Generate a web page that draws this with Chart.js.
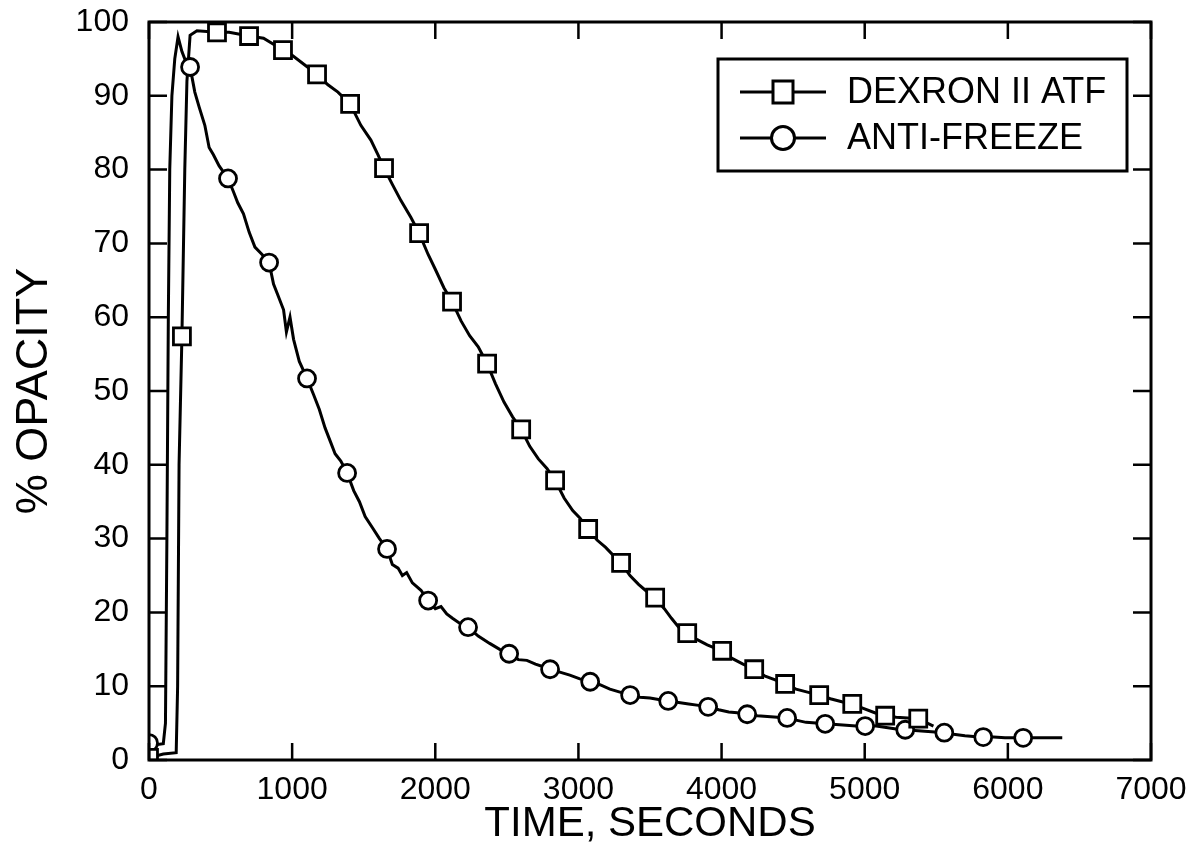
<!DOCTYPE html>
<html>
<head>
<meta charset="utf-8">
<script src="https://cdn.jsdelivr.net/npm/chart.js@4.4.0/dist/chart.umd.min.js"></script>
<style>
html,body{margin:0;padding:0;background:#fff;}
#wrap{width:1195px;height:856px;}
</style>
</head>
<body>
<div id="wrap"><canvas id="opacitychart" width="1195" height="856"></canvas></div>
<script>
// (time in seconds, % opacity)
const dexronTime=[0,100,190,200,210,230,250,265,287,335,475,560,699,800,936,1000,1100,1174,1250,1320,1405,1480,1550,1600,1642,1700,1760,1830,1887,1950,2000,2060,2117,2180,2240,2300,2362,2420,2480,2540,2600,2660,2720,2780,2837,2900,2960,3010,3068,3130,3190,3240,3298,3360,3420,3480,3536,3600,3650,3700,3760,3830,3900,3950,4004,4070,4150,4228,4300,4370,4444,4520,4600,4682,4760,4840,4913,4990,5070,5143,5220,5300,5374,5480];
const dexronOpacity=[0.3,0.8,1,10,40,57.4,80,92,98.2,98.8,98.6,98.6,98.1,97.8,96.2,95.5,94,92.9,91.5,90.5,88.9,86,84,82,80.2,78,75.8,73.5,71.4,68.5,66.5,64,62.1,59.5,57.5,56,53.7,51,48.5,46.5,44.8,42.5,40.8,39.5,37.9,35.5,33.8,32.8,31.3,29.8,28.8,27.8,26.7,25,23.8,22.8,22,20.5,19.2,18,17.2,16.3,15.6,15.2,14.8,13.8,13,12.3,11.4,10.9,10.3,9.6,9.2,8.8,8.3,7.9,7.6,7,6.4,6,5.8,5.7,5.6,4.6];
const dexronMarkTime=[0,230,475,699,936,1174,1405,1642,1887,2117,2362,2600,2837,3068,3298,3536,3760,4004,4228,4444,4682,4913,5143,5374];
const dexronMarkOpacity=[0.3,57.4,98.6,98.1,96.2,92.9,88.9,80.2,71.4,62.1,53.7,44.8,37.9,31.3,26.7,22,17.2,14.8,12.3,10.3,8.8,7.6,6,5.6];

const freezeTime=[0,60,100,115,125,135,145,160,180,203,230,260,287,320,350,390,420,450,490,552,590,620,660,700,740,790,839,870,900,940,960,985,1010,1050,1104,1150,1190,1230,1270,1300,1340,1384,1430,1470,1510,1560,1610,1663,1700,1740,1770,1800,1840,1900,1950,2000,2040,2080,2120,2180,2229,2300,2380,2450,2516,2580,2640,2700,2760,2802,2870,2940,3010,3082,3150,3220,3290,3361,3430,3500,3560,3627,3700,3770,3840,3906,3980,4050,4110,4179,4250,4320,4390,4458,4520,4590,4660,4724,4800,4870,4940,5003,5080,5150,5220,5283,5350,5420,5490,5556,5620,5700,5760,5828,5900,5980,6040,6107,6200,6290,6380];
const freezeOpacity=[2.3,2.1,2.2,5,30,60,80,90,95,98,96,94.5,93.9,90.5,88.5,86,83,82,80.5,78.8,77,75.5,74,71.5,69.5,68.5,67.4,64.5,63,61,58,60,57,54,51.7,49.5,47.5,45,43,41.5,40.5,38.9,36.5,35,33,31.5,30,28.6,26.5,26,25,25.4,24,23,21.6,20.5,20.8,19.8,19.2,18.4,18,16.8,15.8,15,14.4,13.6,13.5,13,12.6,12.3,11.9,11.5,11,10.6,10.2,9.6,9.2,8.8,8.5,8.4,8.2,8,7.8,7.6,7.4,7.2,6.8,6.5,6.4,6.2,6,5.9,5.8,5.7,5.4,5.1,5,4.9,4.8,4.7,4.6,4.6,4.6,4.4,4.2,4.1,4,3.9,3.8,3.7,3.5,3.3,3.2,3.1,3.1,3,3,3,3,3,3];
const freezeMarkTime=[0,287,552,839,1104,1384,1663,1950,2229,2516,2802,3082,3361,3627,3906,4179,4458,4724,5003,5283,5556,5828,6107];
const freezeMarkOpacity=[2.3,93.9,78.8,67.4,51.7,38.9,28.6,21.6,18,14.4,12.3,10.6,8.8,8,7.2,6.2,5.7,4.9,4.6,4.1,3.7,3.1,3];

const xTicks=[0,1000,2000,3000,4000,5000,6000,7000];
const yTicks=[0,10,20,30,40,50,60,70,80,90,100];
const seriesNames=["DEXRON II ATF","ANTI-FREEZE"];

function pts(xs,ys){
    return xs.map((x,i)=>({x:x,y:ys[i]}));
}

const FONT="'Liberation Sans', Arial, Helvetica, sans-serif";

// frame, inward ticks, legend box
const framePlugin={
    id:"frame",
    afterDraw(chart){
        const ctx=chart.ctx;
        const a=chart.chartArea;
        const xs=chart.scales.x, ys=chart.scales.y;
        ctx.save();
        ctx.strokeStyle="#000";
        ctx.lineWidth=3;
        ctx.strokeRect(a.left,a.top,a.right-a.left,a.bottom-a.top);
        ctx.lineWidth=2.5;
        ctx.beginPath();
        xTicks.forEach(v=>{
            const px=xs.getPixelForValue(v);
            ctx.moveTo(px,a.bottom); ctx.lineTo(px,a.bottom-17);
            ctx.moveTo(px,a.top); ctx.lineTo(px,a.top+17);
        });
        yTicks.forEach(v=>{
            const py=ys.getPixelForValue(v);
            ctx.moveTo(a.left,py); ctx.lineTo(a.left+18,py);
            ctx.moveTo(a.right,py); ctx.lineTo(a.right-18,py);
        });
        ctx.stroke();

        // legend
        const lx=718, ly=59, lw=409, lh=112;
        ctx.fillStyle="#fff";
        ctx.fillRect(lx,ly,lw,lh);
        ctx.lineWidth=3;
        ctx.strokeRect(lx,ly,lw,lh);
        const rows=[ly+33,ly+79];
        const styles=["rect","circle"];
        rows.forEach((ry,i)=>{
            ctx.lineWidth=3;
            ctx.beginPath();
            ctx.moveTo(lx+22,ry); ctx.lineTo(lx+108,ry);
            ctx.stroke();
            ctx.fillStyle="#fff";
            ctx.beginPath();
            if(styles[i]==="rect"){
                ctx.rect(lx+65-10,ry-11,20,22);
            }else{
                ctx.arc(lx+65,ry,11.5,0,Math.PI*2);
            }
            ctx.fill(); ctx.stroke();
            ctx.fillStyle="#000";
            ctx.font="36px "+FONT;
            ctx.textBaseline="middle";
            ctx.textAlign="left";
            ctx.fillText(seriesNames[i],lx+129,ry+1);
        });
        ctx.restore();
    }
};

function noPad(s){
    s.paddingTop=0; s.paddingBottom=0; s.paddingLeft=0; s.paddingRight=0;
}

const ctx=document.getElementById("opacitychart").getContext("2d");
new Chart(ctx,{
    type:"scatter",
    data:{
        datasets:[
            {label:seriesNames[0]+" marks",data:pts(dexronMarkTime,dexronMarkOpacity),showLine:false,pointStyle:"rect",pointRadius:12,pointBorderWidth:2.8,pointBorderColor:"#000",pointBackgroundColor:"#fff",order:0},
            {label:seriesNames[1]+" marks",data:pts(freezeMarkTime,freezeMarkOpacity),showLine:false,pointStyle:"circle",pointRadius:8.5,pointBorderWidth:2.8,pointBorderColor:"#000",pointBackgroundColor:"#fff",order:0},
            {label:seriesNames[0],data:pts(dexronTime,dexronOpacity),showLine:true,borderColor:"#000",borderWidth:3,pointRadius:0,tension:0,order:1},
            {label:seriesNames[1],data:pts(freezeTime,freezeOpacity),showLine:true,borderColor:"#000",borderWidth:3,pointRadius:0,tension:0,order:1}
        ]
    },
    options:{
        responsive:false,
        animation:false,
        layout:{padding:{left:0,right:44,top:22,bottom:0}},
        plugins:{legend:{display:false},tooltip:{enabled:false}},
        scales:{
            x:{
                type:"linear",min:0,max:7000,
                afterBuildTicks(s){s.ticks=xTicks.map(v=>({value:v}));},
                afterFit(s){s.height=96; noPad(s);},
                grid:{display:false,drawTicks:false},
                border:{display:false},
                ticks:{color:"#000",font:{family:FONT,size:32},padding:11,maxRotation:0,autoSkip:false,callback:v=>String(v)},
                title:{display:true,text:"TIME, SECONDS",color:"#000",font:{family:FONT,size:42},padding:{top:0,bottom:6}}
            },
            y:{
                type:"linear",min:0,max:100,
                afterBuildTicks(s){s.ticks=yTicks.map(v=>({value:v}));},
                afterFit(s){s.width=149; noPad(s);},
                grid:{display:false,drawTicks:false},
                border:{display:false},
                ticks:{color:"#000",font:{family:FONT,size:32},padding:20,autoSkip:false,callback:v=>String(v)},
                title:{display:true,text:"% OPACITY",color:"#000",font:{family:FONT,size:45},padding:{top:8,bottom:0}}
            }
        }
    },
    plugins:[framePlugin]
});
</script>
</body>
</html>
